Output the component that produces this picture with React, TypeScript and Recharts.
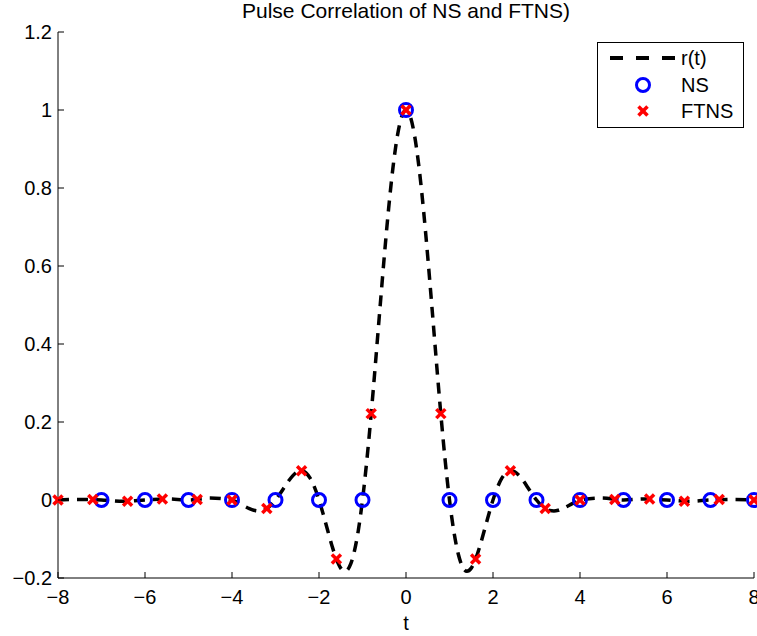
import { ComposedChart, Line, Scatter, XAxis, YAxis } from "recharts";

// r(t) curve
const curveT = [
  -8, -7.5, -7, -6.5, -6, -5.5, -5, -4.5,
  -4, -3.9, -3.8, -3.7, -3.6, -3.5, -3.4, -3.3, -3.2, -3.1,
  -3, -2.9, -2.8, -2.7, -2.6, -2.5, -2.4, -2.3, -2.2, -2.1,
  -2, -1.9, -1.8, -1.7, -1.6, -1.5, -1.4, -1.3, -1.2, -1.1,
  -1, -0.9, -0.8, -0.7, -0.6, -0.5, -0.4, -0.3, -0.2, -0.1,
  0,
  0.1, 0.2, 0.3, 0.4, 0.5, 0.6, 0.7, 0.8, 0.9, 1,
  1.1, 1.2, 1.3, 1.4, 1.5, 1.6, 1.7, 1.8, 1.9, 2,
  2.1, 2.2, 2.3, 2.4, 2.5, 2.6, 2.7, 2.8, 2.9, 3,
  3.1, 3.2, 3.3, 3.4, 3.5, 3.6, 3.7, 3.8, 3.9, 4,
  4.5, 5, 5.5, 6, 6.5, 7, 7.5, 8,
];
const curveR = [
  0, 0.0016, 0, -0.0034, 0, 0.0027, 0, 0.0051,
  0, -0.0049, -0.0106, -0.0167, -0.0222, -0.0263, -0.0281, -0.0267, -0.0216, -0.0126,
  0, 0.0154, 0.0321, 0.0486, 0.0626, 0.072, 0.0748, 0.0696, 0.0552, 0.0317,
  0, -0.0377, -0.0783, -0.1178, -0.1515, -0.1747, -0.1827, -0.1714, -0.1378, -0.0807,
  0, 0.102, 0.2215, 0.353, 0.4895, 0.6233, 0.7467, 0.8519, 0.9324, 0.9828,
  1,
  0.9828, 0.9324, 0.8519, 0.7467, 0.6233, 0.4895, 0.353, 0.2215, 0.102, 0,
  -0.0807, -0.1378, -0.1714, -0.1827, -0.1747, -0.1515, -0.1178, -0.0783, -0.0377, 0,
  0.0317, 0.0552, 0.0696, 0.0748, 0.072, 0.0626, 0.0486, 0.0321, 0.0154, 0,
  -0.0126, -0.0216, -0.0267, -0.0281, -0.0263, -0.0222, -0.0167, -0.0106, -0.0049, 0,
  0.0051, 0, 0.0027, 0, -0.0034, 0, 0.0016, 0,
];

// NS samples (integer t)
const nsT = [-7, -6, -5, -4, -3, -2, -1, 0, 1, 2, 3, 4, 5, 6, 7, 8];
const nsV = [0, 0, 0, 0, 0, 0, 0, 1, 0, 0, 0, 0, 0, 0, 0, 0];

// FTNS samples (t step 0.8)
const ftnsT = [
  -8, -7.2, -6.4, -5.6, -4.8, -4, -3.2, -2.4, -1.6, -0.8, 0,
  0.8, 1.6, 2.4, 3.2, 4, 4.8, 5.6, 6.4, 7.2, 8,
];
const ftnsV = [
  0, 0.0013, -0.0033, 0.0028, 0.001, 0, -0.0216, 0.0748, -0.1515, 0.2215, 1,
  0.2215, -0.1515, 0.0748, -0.0216, 0, 0.001, 0.0028, -0.0033, 0.0013, 0,
];

const xTicks = [-8, -6, -4, -2, 0, 2, 4, 6, 8];
const yTicks = [-0.2, 0, 0.2, 0.4, 0.6, 0.8, 1, 1.2];

const curveData = curveT.map((t, i) => ({ t, v: curveR[i] }));
const nsData = nsT.map((t, i) => ({ t, v: nsV[i] }));
const ftnsData = ftnsT.map((t, i) => ({ t, v: ftnsV[i] }));

const FONT = '"Liberation Sans", Arial, Helvetica, sans-serif';
const fmt = (v: number) => String(v).replace("-", "\u2212");

const BottomTick = ({ x, y, payload }: any) => (
  <g>
    <line x1={x} y1={y} x2={x} y2={y - 6} stroke="#000" />
    <text x={x} y={y + 26} textAnchor="middle" fontSize={20} fontFamily={FONT} fill="#000">
      {fmt(payload.value)}
    </text>
  </g>
);

const LeftTick = ({ x, y, payload }: any) => (
  <g>
    <line x1={x} y1={y} x2={x + 6} y2={y} stroke="#000" />
    <text x={x - 6} y={y + 7} textAnchor="end" fontSize={20} fontFamily={FONT} fill="#000">
      {fmt(payload.value)}
    </text>
  </g>
);

const TopTick = ({ x, y }: any) => <line x1={x} y1={y} x2={x} y2={y + 6} stroke="#000" />;
const RightTick = ({ x, y }: any) => <line x1={x} y1={y} x2={x - 6} y2={y} stroke="#000" />;

const Circle = ({ cx, cy }: any) => (
  <circle cx={cx} cy={cy} r={6.5} fill="none" stroke="#0000ff" strokeWidth={3} />
);

const Cross = ({ cx, cy }: any) => (
  <g stroke="#ff0000" strokeWidth={3.5}>
    <line x1={cx - 4.5} y1={cy - 4.5} x2={cx + 4.5} y2={cy + 4.5} />
    <line x1={cx - 4.5} y1={cy + 4.5} x2={cx + 4.5} y2={cy - 4.5} />
  </g>
);

const LegendBox = () => (
  <svg
    width={757}
    height={636}
    style={{ position: "absolute", left: 0, top: 0, pointerEvents: "none" }}
  >
    <rect x={597.5} y={42.5} width={146} height={85} fill="#fff" stroke="#000" />
    <line x1={610} y1={58} x2={675} y2={58} stroke="#000" strokeWidth={4} strokeDasharray="13 13" />
    <circle cx={643} cy={85} r={6.5} fill="none" stroke="#0000ff" strokeWidth={3} />
    <g stroke="#ff0000" strokeWidth={3.5}>
      <line x1={638.5} y1={106.5} x2={647.5} y2={115.5} />
      <line x1={638.5} y1={115.5} x2={647.5} y2={106.5} />
    </g>
    <g fontFamily={FONT} fontSize={20} fill="#000">
      <text x={681} y={65}>r(t)</text>
      <text x={681} y={92}>NS</text>
      <text x={681} y={118}>FTNS</text>
    </g>
  </svg>
);

export default function App() {
  return (
    <div style={{ position: "absolute", left: 0, top: 0, width: 757, height: 636, background: "#fff" }}>
      <div
        style={{
          position: "absolute",
          left: 0,
          width: 812,
          top: 0,
          textAlign: "center",
          fontFamily: FONT,
          fontSize: 21,
          lineHeight: "22px",
        }}
      >
        Pulse Correlation of NS and FTNS)
      </div>
      <ComposedChart
        width={757}
        height={636}
        margin={{ top: 32, right: 3, bottom: 28, left: 8 }}
        style={{ position: "absolute", left: 0, top: 0 }}
      >
        <XAxis
          dataKey="t"
          type="number"
          domain={[-8, 8]}
          ticks={xTicks}
          interval={0}
          height={30}
          tickSize={0}
          tickMargin={0}
          tickLine={false}
          tick={<BottomTick />}
          axisLine={{ stroke: "#000" }}
        />
        <XAxis
          xAxisId="top"
          orientation="top"
          type="number"
          domain={[-8, 8]}
          ticks={xTicks}
          interval={0}
          height={0}
          tickSize={0}
          tickMargin={0}
          tickLine={false}
          tick={<TopTick />}
          axisLine={{ stroke: "#000" }}
        />
        <YAxis
          type="number"
          domain={[-0.2, 1.2]}
          ticks={yTicks}
          interval={0}
          width={50}
          tickSize={0}
          tickMargin={0}
          tickLine={false}
          tick={<LeftTick />}
          axisLine={{ stroke: "#000" }}
        />
        <YAxis
          yAxisId="right"
          orientation="right"
          type="number"
          domain={[-0.2, 1.2]}
          ticks={yTicks}
          interval={0}
          width={0}
          tickSize={0}
          tickMargin={0}
          tickLine={false}
          tick={<RightTick />}
          axisLine={{ stroke: "#000" }}
        />
        <Line
          data={curveData}
          dataKey="v"
          type="monotone"
          stroke="#000"
          strokeWidth={3.5}
          strokeDasharray="11 8"
          dot={false}
          activeDot={false}
          isAnimationActive={false}
        />
        <Scatter data={nsData} dataKey="v" shape={<Circle />} isAnimationActive={false} />
        <Scatter data={ftnsData} dataKey="v" shape={<Cross />} isAnimationActive={false} />
      </ComposedChart>
      <LegendBox />
      <div
        style={{
          position: "absolute",
          left: 396,
          width: 20,
          top: 612,
          textAlign: "center",
          fontFamily: FONT,
          fontSize: 20,
          lineHeight: "22px",
        }}
      >
        t
      </div>
    </div>
  );
}
